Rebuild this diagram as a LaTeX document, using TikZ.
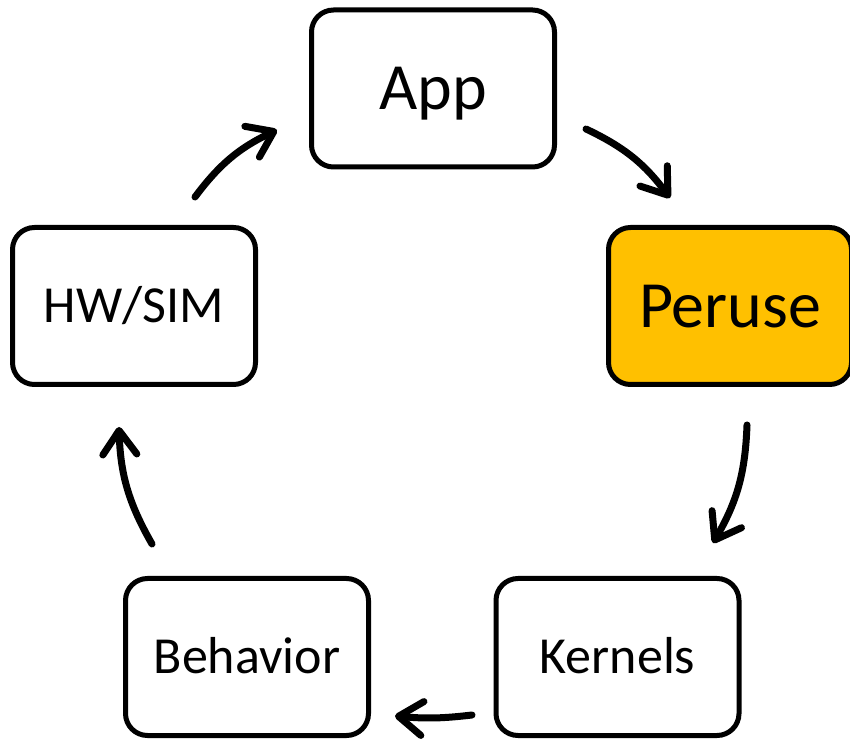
\documentclass[tikz,border=0pt]{standalone}
\usepackage{fontspec}
\setmainfont{Carlito}
\usetikzlibrary{arrows.meta}
\definecolor{peruseorange}{HTML}{FFC000}
\begin{document}
\begin{tikzpicture}[x=1pt,y=1pt,
  stagebox/.style={draw=black, line width=5pt, rounded corners=22pt, rectangle,
    minimum width=243pt, minimum height=157pt, inner sep=0pt, fill=white},
  smalltext/.style={font=\fontsize{52}{56}\selectfont, text height=33pt, text depth=0pt},
  bigtext/.style={font=\fontsize{66}{70}\selectfont, text height=43pt, text depth=0pt},
  cyclearrow/.style={line width=7pt, line cap=round, line join=round,
    -{Straight Barb[length=24pt,width=34pt,round]}, bend left=14}]
\useasboundingbox (0,0) rectangle (850,738);
\node[stagebox, bigtext] (app) at (433,649.5) {App};
\node[stagebox, bigtext, fill=peruseorange] (peruse) at (730,432) {Peruse};
\node[stagebox, smalltext] (hw) at (134,432) {HW/SIM};
\node[stagebox, smalltext] (behavior) at (247,81) {Behavior};
\node[stagebox, smalltext] (kernels) at (617.5,81) {Kernels};
\coordinate (a1s) at (195,541); \coordinate (a1e) at (277,608);
\coordinate (a2s) at (586,609); \coordinate (a2e) at (670,540);
\coordinate (a3s) at (747,313); \coordinate (a3e) at (713,195);
\coordinate (a4s) at (472,23);  \coordinate (a4e) at (395,22);
\coordinate (a5s) at (152,194); \coordinate (a5e) at (119,311);
\draw[cyclearrow] (a1s) to (a1e);
\draw[cyclearrow] (a2s) to (a2e);
\draw[cyclearrow] (a3s) to (a3e);
\draw[cyclearrow, bend left=6] (a4s) to (a4e);
\draw[cyclearrow] (a5s) to (a5e);
\end{tikzpicture}
\end{document}
